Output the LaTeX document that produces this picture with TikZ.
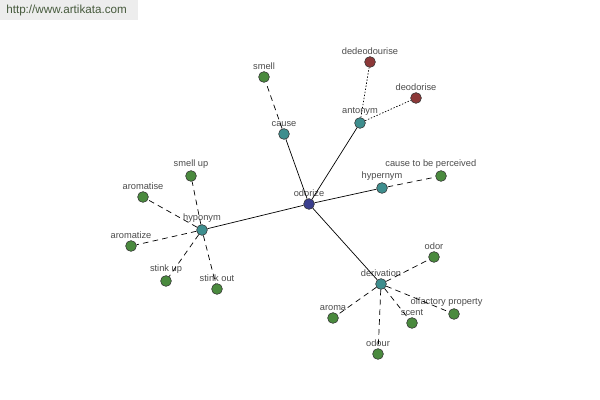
\documentclass[tikz,border=0pt]{standalone}
\usepackage{fontspec}
\setmainfont{Liberation Sans}
\definecolor{ngreen}{RGB}{74,138,62}
\definecolor{nteal}{RGB}{62,142,142}
\definecolor{nnavy}{RGB}{58,62,142}
\definecolor{nred}{RGB}{140,56,56}
\definecolor{hdrtext}{RGB}{70,90,60}
\begin{document}
\begin{tikzpicture}[x=0.025cm,y=-0.025cm,
  dot/.style={circle,draw=black!80,line width=0.4pt,minimum size=0.27cm,inner sep=0pt,
    label={[lbl]above:#1}},
  lbl/.style={text=black!70,font=\fontsize{6.6}{7}\selectfont,inner sep=0.5pt,label distance=0.4pt},
  gn/.style={dot=#1,fill=ngreen},
  tl/.style={dot=#1,fill=nteal},
  bl/.style={dot=#1,fill=nnavy},
  rd/.style={dot=#1,fill=nred},
  solidl/.style={draw=black,line width=0.5pt},
  dashl/.style={draw=black,line width=0.5pt,dash pattern=on 4pt off 3pt},
  dotl/.style={draw=black,line width=0.5pt,dash pattern=on 1pt off 1.2pt}]
\useasboundingbox[fill=white] (0,0) rectangle (600,400);
\fill[black!7] (0,0) rectangle (138,20);
\node[anchor=west,text=hdrtext,font=\fontsize{8.3}{9}\selectfont,inner sep=0pt] (hdr) at (6,10) {http://www.artikata.com};
% nodes
\node[bl=odorize] (odorize) at (309,204) {};
\node[tl=cause] (cause) at (284,134) {};
\node[gn=smell] (smell) at (264,77) {};
\node[tl=antonym] (antonym) at (360,123) {};
\node[rd=dedeodourise] (dedeo) at (370,62) {};
\node[rd=deodorise] (deo) at (416,98) {};
\node[tl=hypernym] (hypernym) at (382,188) {};
\node[gn={\hspace*{-2.2em}cause to be perceived}] (ctbp) at (441,176) {};
\node[tl=hyponym] (hyponym) at (202,230) {};
\node[gn=smell up] (smellup) at (191,176) {};
\node[gn=aromatise] (aromatise) at (143,197) {};
\node[gn=aromatize] (aromatize) at (131,246) {};
\node[gn=stink up] (stinkup) at (166,281) {};
\node[gn=stink out] (stinkout) at (217,289) {};
\node[tl=derivation] (derivation) at (381,284) {};
\node[gn=odor] (odor) at (434,257) {};
\node[gn=aroma] (aroma) at (333,318) {};
\node[gn=scent] (scent) at (412,323) {};
\node[gn={\hspace*{-1.6em}olfactory property}] (olf) at (454,314) {};
\node[gn=odour] (odour) at (378,354) {};
% edges
\draw[solidl] (odorize) -- (cause);
\draw[solidl] (odorize) -- (antonym);
\draw[solidl] (odorize) -- (hypernym);
\draw[solidl] (odorize) -- (hyponym);
\draw[solidl] (odorize) -- (derivation);
\draw[dashl] (cause) -- (smell);
\draw[dotl] (antonym) -- (dedeo);
\draw[dotl] (antonym) -- (deo);
\draw[dashl] (hypernym) -- (ctbp);
\draw[dashl] (hyponym) -- (smellup);
\draw[dashl] (hyponym) -- (aromatise);
\draw[dashl] (hyponym) -- (aromatize);
\draw[dashl] (hyponym) -- (stinkup);
\draw[dashl] (hyponym) -- (stinkout);
\draw[dashl] (derivation) -- (odor);
\draw[dashl] (derivation) -- (aroma);
\draw[dashl] (derivation) -- (scent);
\draw[dashl] (derivation) -- (olf);
\draw[dashl] (derivation) -- (odour);
\end{tikzpicture}
\end{document}
